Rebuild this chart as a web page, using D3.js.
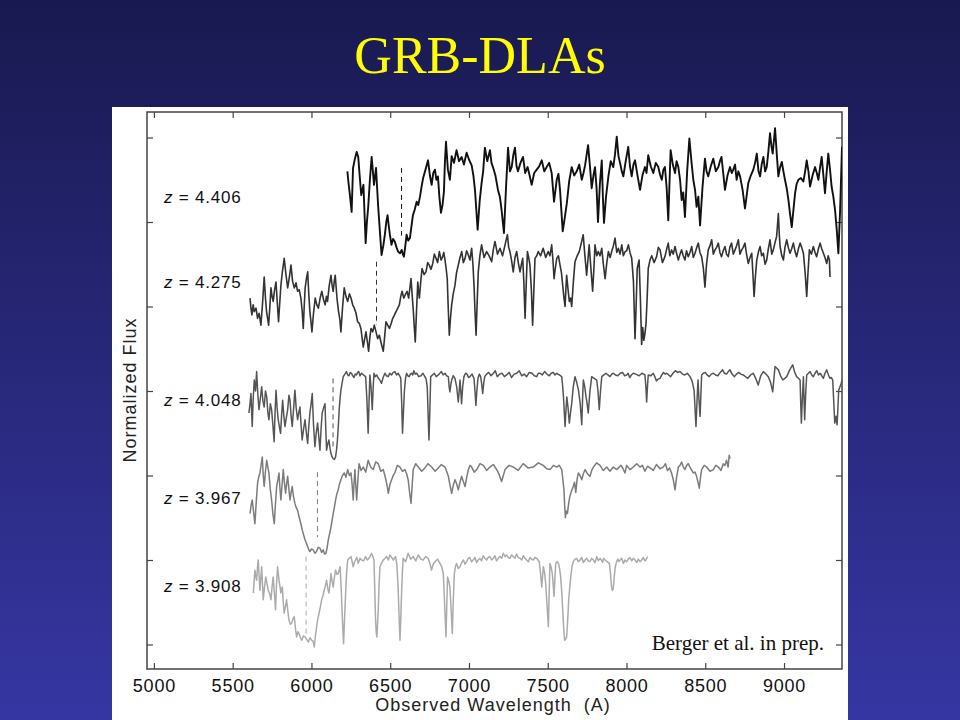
<!DOCTYPE html>
<html><head><meta charset="utf-8">
<script src="https://cdn.jsdelivr.net/npm/d3@7"></script>
<style>html,body{margin:0;padding:0;background:#222266;} svg{display:block;}</style>
</head><body>
<svg id="c" width="960" height="720"></svg>
<script>
// ---------- data ----------
const redshifts = ["4.406","4.275","4.048","3.967","3.908"];
const dlaWave = [6572, 6413, 6137, 6038, 5966];          // Ly-alpha of each DLA (A)
const dashTop = [5.64, 4.53, 3.15, 2.04, 1.04];
const dashBottom = [4.84, 3.78, 2.34, 1.27, 0.09];
const labelFlux = [5.22, 4.22, 2.82, 1.66, 0.62];
const xTicks = [5000,5500,6000,6500,7000,7500,8000,8500,9000];
const yTicks = [0,1,2,3,4,5,6];

const spec4406 = [[6228,5.60],[6236,5.45],[6244,5.32],[6255,5.12],[6264,5.64],[6276,5.75],[6287,5.83],[6297,5.77],[6306,5.55],[6316,5.32],[6330,5.44],[6338,5.05],[6344,4.75],[6352,5.00],[6360,5.17],[6371,5.50],[6382,5.77],[6390,5.60],[6397,5.44],[6410,5.64],[6417,5.40],[6423,5.20],[6434,4.90],[6445,4.61],[6456,4.72],[6466,4.85],[6475,5.00],[6483,5.08],[6491,4.95],[6498,4.85],[6508,4.73],[6518,4.80],[6529,4.77],[6540,4.70],[6550,4.65],[6562,4.63],[6573,4.67],[6580,4.62],[6587,4.59],[6596,4.72],[6604,4.85],[6614,4.78],[6625,4.81],[6635,4.95],[6644,5.08],[6656,5.15],[6668,5.24],[6678,5.20],[6689,5.30],[6699,5.42],[6709,5.52],[6724,5.62],[6740,5.73],[6752,5.55],[6763,5.44],[6773,5.58],[6784,5.62],[6793,5.50],[6803,5.54],[6812,5.30],[6822,5.11],[6832,5.20],[6841,5.36],[6847,5.70],[6854,5.95],[6866,5.62],[6879,5.50],[6890,5.78],[6905,5.70],[6921,5.85],[6937,5.72],[6953,5.77],[6968,5.68],[6985,5.82],[7000,5.74],[7017,5.67],[7028,5.55],[7038,5.38],[7055,4.91],[7068,5.25],[7080,5.46],[7090,5.60],[7101,5.88],[7116,5.72],[7133,5.85],[7143,5.70],[7152,5.65],[7168,5.55],[7184,5.38],[7196,5.30],[7207,5.14],[7222,4.87],[7235,5.40],[7248,5.88],[7260,5.60],[7271,5.65],[7282,5.80],[7292,5.88],[7302,5.66],[7311,5.60],[7327,5.70],[7343,5.77],[7357,5.58],[7372,5.65],[7385,5.55],[7398,5.44],[7414,5.58],[7430,5.62],[7446,5.66],[7462,5.73],[7478,5.60],[7493,5.65],[7509,5.70],[7525,5.58],[7540,5.24],[7557,5.50],[7568,5.57],[7578,5.38],[7595,4.89],[7608,5.05],[7621,5.22],[7636,5.48],[7652,5.65],[7668,5.55],[7684,5.60],[7700,5.68],[7716,5.50],[7727,5.58],[7737,5.67],[7756,5.91],[7768,5.66],[7779,5.40],[7790,5.55],[7800,5.65],[7810,5.40],[7819,5.00],[7831,5.45],[7843,5.73],[7850,5.30],[7857,4.99],[7870,5.30],[7885,5.54],[7900,5.72],[7916,5.65],[7927,5.80],[7938,6.01],[7949,5.78],[7959,5.70],[7970,5.60],[7980,5.54],[7995,5.72],[8011,5.89],[8022,5.66],[8033,5.54],[8044,5.68],[8054,5.73],[8070,5.55],[8086,5.38],[8101,5.55],[8117,5.65],[8127,5.58],[8138,5.79],[8154,5.66],[8170,5.58],[8186,5.70],[8202,5.65],[8213,5.56],[8224,5.50],[8234,5.62],[8244,5.65],[8255,5.40],[8265,5.02],[8280,5.85],[8294,5.68],[8308,5.58],[8318,5.72],[8329,5.65],[8340,5.50],[8350,5.26],[8360,5.35],[8371,5.06],[8385,5.60],[8399,5.99],[8412,5.72],[8424,5.50],[8435,5.38],[8445,5.18],[8456,5.30],[8467,4.96],[8482,5.40],[8498,5.75],[8508,5.60],[8519,5.54],[8535,5.66],[8551,5.75],[8567,5.60],[8583,5.65],[8593,5.72],[8603,5.77],[8614,5.58],[8625,5.38],[8641,5.55],[8657,5.65],[8668,5.58],[8678,5.62],[8689,5.68],[8699,5.50],[8710,5.60],[8721,5.54],[8737,5.38],[8752,5.16],[8762,5.30],[8773,5.46],[8789,5.55],[8805,5.62],[8816,5.70],[8827,5.81],[8838,5.60],[8848,5.54],[8858,5.68],[8869,5.77],[8880,5.60],[8890,5.65],[8900,5.82],[8911,6.05],[8920,5.90],[8928,5.81],[8935,5.95],[8943,6.11],[8954,5.80],[8964,5.54],[8975,5.65],[8986,5.71],[8996,5.60],[9006,5.50],[9017,5.40],[9028,5.26],[9038,5.10],[9049,4.94],[9060,5.15],[9070,5.34],[9080,5.45],[9091,5.50],[9107,5.52],[9123,5.48],[9134,5.60],[9144,5.73],[9155,5.60],[9165,5.42],[9181,5.55],[9197,5.65],[9208,5.58],[9218,5.50],[9229,5.65],[9239,5.77],[9250,5.55],[9260,5.34],[9271,5.60],[9281,5.81],[9292,5.62],[9302,5.42],[9313,5.30],[9324,5.14],[9335,4.90],[9345,4.63],[9356,5.14],[9368,5.89]];

const spec4275 = [[5610,4.10],[5616,3.98],[5622,3.90],[5630,4.02],[5637,3.94],[5648,3.98],[5658,3.86],[5668,3.92],[5679,3.78],[5690,4.05],[5700,4.35],[5708,4.10],[5715,3.94],[5728,3.78],[5736,4.00],[5743,4.22],[5750,4.12],[5757,4.06],[5766,4.20],[5775,4.29],[5783,4.05],[5791,3.82],[5799,4.05],[5806,4.25],[5816,4.42],[5827,4.57],[5838,4.38],[5849,4.22],[5860,4.35],[5870,4.49],[5880,4.30],[5891,4.22],[5902,4.28],[5912,4.18],[5922,4.20],[5933,4.10],[5941,3.95],[5948,3.74],[5954,4.00],[5960,4.22],[5968,4.33],[5976,4.41],[5983,4.15],[5990,3.94],[5997,3.82],[6003,3.70],[6013,3.92],[6024,4.10],[6034,4.02],[6044,3.98],[6055,4.10],[6066,4.18],[6077,4.08],[6087,4.02],[6095,4.12],[6102,4.06],[6113,4.25],[6124,4.37],[6131,4.25],[6138,4.18],[6145,4.30],[6151,4.37],[6162,4.10],[6172,3.94],[6180,3.85],[6187,3.70],[6197,3.98],[6208,4.22],[6219,4.12],[6230,4.06],[6241,4.15],[6251,4.10],[6262,4.02],[6272,3.98],[6283,3.92],[6293,3.82],[6304,3.80],[6314,3.74],[6322,3.62],[6329,3.52],[6338,3.62],[6346,3.70],[6355,3.58],[6363,3.47],[6370,3.62],[6378,3.74],[6389,3.70],[6399,3.78],[6410,3.70],[6420,3.62],[6431,3.66],[6441,3.58],[6449,3.52],[6456,3.47],[6465,3.65],[6473,3.82],[6484,3.78],[6495,3.74],[6506,3.80],[6516,3.86],[6527,3.90],[6537,3.94],[6548,3.98],[6558,4.02],[6567,4.12],[6575,4.18],[6586,4.10],[6596,4.14],[6607,4.18],[6617,4.10],[6625,4.22],[6632,4.33],[6640,4.12],[6647,3.94],[6653,3.75],[6659,3.58],[6667,3.95],[6675,4.29],[6680,4.18],[6685,4.10],[6694,4.30],[6702,4.45],[6715,4.38],[6727,4.41],[6738,4.52],[6748,4.49],[6759,4.44],[6770,4.51],[6780,4.62],[6791,4.57],[6801,4.52],[6812,4.65],[6823,4.55],[6833,4.59],[6840,4.64],[6848,4.55],[6855,4.45],[6862,4.33],[6868,4.00],[6875,3.66],[6882,3.85],[6890,4.02],[6900,4.15],[6911,4.25],[6921,4.40],[6932,4.49],[6943,4.58],[6954,4.65],[6964,4.52],[6975,4.57],[6985,4.66],[6996,4.61],[7006,4.55],[7017,4.69],[7025,4.50],[7032,4.25],[7038,3.95],[7045,3.66],[7052,4.05],[7059,4.41],[7069,4.60],[7080,4.73],[7096,4.58],[7112,4.65],[7128,4.60],[7144,4.53],[7155,4.68],[7165,4.77],[7181,4.62],[7197,4.69],[7213,4.60],[7229,4.73],[7244,4.85],[7252,4.70],[7260,4.65],[7270,4.55],[7281,4.41],[7292,4.58],[7303,4.65],[7313,4.52],[7324,4.41],[7333,4.50],[7341,4.57],[7348,4.30],[7356,3.86],[7364,4.30],[7371,4.65],[7379,4.58],[7387,4.49],[7396,4.20],[7404,3.78],[7412,4.20],[7419,4.57],[7430,4.60],[7440,4.65],[7455,4.60],[7471,4.69],[7487,4.58],[7503,4.65],[7514,4.60],[7525,4.73],[7533,4.55],[7540,4.33],[7548,4.45],[7557,4.57],[7568,4.60],[7578,4.49],[7587,4.40],[7595,4.25],[7603,4.10],[7610,4.00],[7615,4.20],[7620,4.37],[7629,4.20],[7637,4.06],[7645,4.10],[7652,4.00],[7663,4.30],[7673,4.53],[7687,4.60],[7700,4.65],[7713,4.75],[7725,4.85],[7736,4.60],[7747,4.37],[7755,4.55],[7763,4.73],[7774,4.45],[7785,4.18],[7793,4.45],[7800,4.73],[7811,4.60],[7821,4.65],[7832,4.60],[7843,4.69],[7853,4.50],[7864,4.33],[7875,4.52],[7885,4.65],[7896,4.58],[7906,4.65],[7917,4.72],[7927,4.81],[7938,4.64],[7948,4.69],[7959,4.62],[7970,4.73],[7980,4.60],[7991,4.65],[8001,4.66],[8012,4.73],[8022,4.64],[8033,4.57],[8044,4.30],[8054,3.62],[8061,4.00],[8068,4.45],[8080,4.55],[8088,4.10],[8096,3.55],[8103,3.75],[8110,3.60],[8117,3.68],[8124,3.80],[8131,4.10],[8138,4.45],[8149,4.55],[8160,4.60],[8175,4.52],[8191,4.59],[8202,4.70],[8213,4.67],[8228,4.52],[8244,4.59],[8255,4.68],[8265,4.75],[8275,4.60],[8286,4.67],[8297,4.62],[8308,4.71],[8319,4.62],[8329,4.55],[8340,4.62],[8350,4.67],[8360,4.60],[8371,4.55],[8381,4.66],[8392,4.59],[8403,4.64],[8414,4.71],[8424,4.58],[8435,4.63],[8446,4.70],[8456,4.75],[8466,4.64],[8477,4.59],[8488,4.45],[8498,4.23],[8508,4.50],[8519,4.67],[8530,4.72],[8541,4.79],[8551,4.62],[8562,4.67],[8572,4.70],[8583,4.75],[8593,4.64],[8603,4.59],[8614,4.66],[8625,4.71],[8635,4.62],[8646,4.59],[8656,4.70],[8667,4.75],[8678,4.62],[8689,4.67],[8699,4.72],[8710,4.79],[8720,4.62],[8731,4.67],[8741,4.70],[8752,4.75],[8762,4.62],[8773,4.51],[8784,4.58],[8795,4.63],[8802,4.40],[8810,4.12],[8818,4.35],[8827,4.55],[8838,4.65],[8848,4.71],[8858,4.60],[8869,4.63],[8880,4.50],[8890,4.55],[8900,4.68],[8911,4.79],[8922,4.62],[8932,4.67],[8942,4.75],[8953,4.83],[8958,4.95],[8964,5.10],[8970,4.85],[8975,4.71],[8986,4.60],[8996,4.55],[9006,4.70],[9017,4.79],[9027,4.70],[9038,4.63],[9048,4.68],[9059,4.75],[9070,4.65],[9080,4.59],[9091,4.68],[9102,4.75],[9112,4.70],[9123,4.63],[9134,4.40],[9144,4.12],[9152,4.40],[9161,4.67],[9174,4.62],[9186,4.71],[9197,4.64],[9207,4.59],[9218,4.68],[9229,4.75],[9240,4.68],[9250,4.63],[9260,4.58],[9271,4.51],[9280,4.60],[9288,4.55],[9292,4.35]];

const spec4048 = [[5603,2.74],[5610,2.85],[5616,2.97],[5624,2.58],[5630,2.90],[5637,3.13],[5645,3.00],[5652,3.23],[5660,2.95],[5667,2.78],[5676,2.92],[5684,3.05],[5692,2.88],[5700,2.81],[5708,3.00],[5716,2.93],[5723,2.75],[5730,2.66],[5739,2.85],[5747,2.78],[5755,2.60],[5763,2.40],[5769,2.75],[5775,3.01],[5782,2.80],[5789,2.66],[5796,2.58],[5804,2.50],[5810,2.70],[5817,2.89],[5825,2.70],[5832,2.58],[5840,2.68],[5849,2.78],[5857,2.95],[5864,2.89],[5871,2.70],[5878,2.58],[5887,2.80],[5895,3.01],[5903,2.80],[5912,2.66],[5920,2.75],[5927,2.81],[5934,2.60],[5941,2.42],[5950,2.55],[5959,2.66],[5968,2.50],[5976,2.38],[5983,2.58],[5990,2.74],[5998,2.85],[6005,2.97],[6013,2.60],[6022,2.34],[6030,2.50],[6039,2.62],[6047,2.45],[6054,2.30],[6061,2.55],[6068,2.74],[6077,2.80],[6086,2.85],[6091,2.55],[6096,2.30],[6104,2.38],[6111,2.42],[6118,2.32],[6124,2.26],[6131,2.22],[6138,2.20],[6146,2.19],[6153,2.22],[6159,2.30],[6165,2.42],[6171,2.60],[6176,2.78],[6182,2.92],[6187,3.01],[6195,3.10],[6202,3.17],[6212,3.20],[6222,3.23],[6230,3.19],[6238,3.18],[6246,3.22],[6254,3.21],[6262,3.18],[6270,3.16],[6278,3.20],[6286,3.19],[6293,3.22],[6300,3.23],[6308,3.18],[6317,3.21],[6330,3.19],[6344,3.17],[6352,2.90],[6360,2.50],[6366,2.90],[6371,3.19],[6378,3.05],[6386,2.78],[6392,3.05],[6397,3.21],[6405,3.17],[6414,3.19],[6422,3.16],[6430,3.14],[6437,3.12],[6445,3.09],[6455,3.16],[6466,3.21],[6476,3.18],[6487,3.17],[6497,3.21],[6508,3.19],[6519,3.22],[6530,3.23],[6540,3.19],[6550,3.21],[6560,3.18],[6567,3.15],[6573,2.85],[6578,2.50],[6584,2.75],[6590,3.00],[6597,3.15],[6604,3.21],[6612,3.18],[6620,3.17],[6628,3.20],[6635,3.21],[6643,3.19],[6650,3.24],[6659,3.20],[6668,3.21],[6681,3.17],[6695,3.18],[6708,3.21],[6720,3.17],[6728,3.14],[6735,3.05],[6741,2.70],[6746,2.42],[6752,2.80],[6757,3.17],[6768,3.19],[6780,3.21],[6792,3.17],[6805,3.19],[6815,3.21],[6825,3.23],[6836,3.19],[6848,3.21],[6858,3.18],[6869,3.17],[6874,3.05],[6879,2.99],[6885,3.08],[6890,3.13],[6900,3.18],[6911,3.15],[6922,3.05],[6932,2.87],[6938,3.00],[6943,3.13],[6948,3.00],[6953,2.85],[6960,3.05],[6968,3.17],[6978,3.21],[6988,3.20],[6997,3.16],[7006,3.17],[7019,3.20],[7032,3.15],[7038,3.00],[7044,2.83],[7050,3.00],[7057,3.15],[7066,3.20],[7074,3.17],[7081,3.08],[7087,2.97],[7094,3.10],[7100,3.17],[7112,3.20],[7125,3.22],[7140,3.18],[7155,3.21],[7167,3.24],[7180,3.17],[7195,3.20],[7210,3.21],[7225,3.17],[7239,3.19],[7255,3.22],[7270,3.16],[7287,3.20],[7303,3.21],[7319,3.24],[7335,3.18],[7350,3.20],[7366,3.17],[7383,3.22],[7400,3.21],[7415,3.18],[7430,3.17],[7440,3.21],[7451,3.21],[7465,3.19],[7480,3.23],[7495,3.20],[7510,3.18],[7522,3.21],[7535,3.22],[7546,3.19],[7557,3.21],[7573,3.19],[7589,3.17],[7595,3.05],[7600,2.93],[7605,2.75],[7610,2.58],[7615,2.75],[7621,2.93],[7629,2.80],[7637,2.62],[7645,2.75],[7652,2.85],[7662,3.05],[7673,3.17],[7684,3.10],[7695,3.01],[7706,2.85],[7716,2.60],[7721,2.90],[7726,3.13],[7735,3.05],[7743,2.93],[7750,2.85],[7757,2.74],[7768,3.00],[7779,3.17],[7795,3.15],[7811,3.13],[7819,3.00],[7827,2.78],[7835,3.00],[7843,3.17],[7856,3.19],[7870,3.21],[7882,3.19],[7895,3.17],[7906,3.20],[7916,3.21],[7930,3.19],[7945,3.18],[7960,3.21],[7975,3.22],[7988,3.18],[8001,3.19],[8010,3.21],[8020,3.16],[8031,3.19],[8043,3.21],[8060,3.20],[8080,3.18],[8098,3.21],[8117,3.19],[8123,3.05],[8128,2.87],[8133,3.05],[8138,3.19],[8155,3.18],[8170,3.21],[8180,3.17],[8190,3.12],[8200,3.14],[8213,3.15],[8224,3.19],[8235,3.22],[8245,3.20],[8255,3.21],[8268,3.19],[8280,3.17],[8295,3.21],[8310,3.24],[8325,3.22],[8340,3.23],[8355,3.20],[8370,3.19],[8386,3.21],[8403,3.17],[8416,3.12],[8429,3.01],[8435,2.80],[8441,2.58],[8448,2.90],[8454,3.13],[8460,2.90],[8467,2.70],[8472,2.95],[8477,3.19],[8488,3.21],[8500,3.22],[8512,3.19],[8525,3.17],[8538,3.20],[8551,3.21],[8565,3.19],[8580,3.18],[8595,3.22],[8610,3.25],[8622,3.21],[8635,3.20],[8646,3.23],[8657,3.25],[8670,3.20],[8685,3.17],[8698,3.20],[8712,3.22],[8726,3.20],[8741,3.19],[8755,3.17],[8770,3.15],[8788,3.19],[8805,3.21],[8820,3.15],[8836,3.07],[8852,3.18],[8869,3.23],[8885,3.20],[8900,3.17],[8915,3.10],[8928,2.99],[8936,3.15],[8943,3.29],[8954,3.27],[8964,3.25],[8978,3.18],[8992,3.13],[9005,3.15],[9017,3.17],[9036,3.25],[9055,3.31],[9068,3.22],[9080,3.17],[9091,3.15],[9102,3.13],[9106,2.85],[9110,2.62],[9116,2.90],[9123,3.17],[9127,2.90],[9131,2.66],[9137,2.95],[9144,3.19],[9155,3.21],[9165,3.23],[9176,3.19],[9186,3.17],[9197,3.21],[9208,3.24],[9219,3.19],[9229,3.21],[9240,3.18],[9250,3.15],[9260,3.21],[9271,3.25],[9282,3.19],[9292,3.15],[9300,3.16],[9309,3.13],[9315,2.90],[9322,2.62],[9330,2.70],[9337,2.60],[9342,2.80],[9347,3.01],[9355,3.05],[9363,3.09],[9368,3.13]];

const spec3967 = [[5610,1.55],[5617,1.65],[5624,1.71],[5632,1.58],[5641,1.43],[5650,1.70],[5658,1.91],[5665,1.98],[5673,2.03],[5680,2.12],[5688,2.22],[5694,2.00],[5700,1.87],[5708,2.05],[5716,2.18],[5723,2.10],[5730,2.03],[5738,1.85],[5747,1.71],[5755,1.55],[5764,1.43],[5771,1.65],[5779,1.87],[5787,1.95],[5794,2.03],[5800,1.85],[5806,1.71],[5814,1.90],[5821,2.07],[5828,1.92],[5836,1.79],[5842,1.90],[5849,1.99],[5856,1.85],[5864,1.71],[5871,1.80],[5878,1.87],[5886,1.75],[5895,1.67],[5903,1.62],[5912,1.59],[5920,1.52],[5927,1.47],[5934,1.42],[5941,1.36],[5950,1.30],[5959,1.24],[5967,1.20],[5976,1.16],[5983,1.12],[5990,1.10],[6000,1.13],[6011,1.12],[6022,1.08],[6032,1.10],[6043,1.15],[6054,1.14],[6065,1.09],[6075,1.12],[6083,1.07],[6092,1.08],[6100,1.15],[6107,1.24],[6115,1.31],[6124,1.39],[6131,1.47],[6138,1.55],[6146,1.63],[6153,1.71],[6161,1.78],[6170,1.83],[6178,1.90],[6187,1.95],[6197,2.00],[6208,2.03],[6219,1.98],[6230,2.07],[6241,2.00],[6251,2.03],[6258,1.90],[6265,1.71],[6270,1.90],[6276,2.07],[6281,1.90],[6287,1.71],[6295,1.95],[6302,2.14],[6315,2.06],[6329,2.10],[6345,2.04],[6360,2.18],[6376,2.10],[6392,2.07],[6408,2.16],[6424,2.14],[6440,2.05],[6456,2.07],[6466,2.00],[6477,1.91],[6483,1.85],[6488,1.79],[6499,1.90],[6509,1.95],[6519,2.00],[6529,2.03],[6545,2.12],[6562,2.10],[6578,2.05],[6593,2.07],[6604,2.02],[6614,1.95],[6623,1.80],[6632,1.67],[6640,1.90],[6646,2.07],[6662,2.14],[6678,2.10],[6700,2.05],[6720,2.09],[6740,2.14],[6763,2.10],[6785,2.05],[6805,2.09],[6825,2.13],[6848,2.10],[6858,2.05],[6869,1.99],[6880,1.88],[6890,1.79],[6900,1.88],[6911,1.95],[6922,1.90],[6932,1.83],[6943,1.92],[6953,1.99],[6964,1.93],[6975,1.87],[6986,1.98],[6996,2.07],[7007,2.12],[7017,2.10],[7033,2.04],[7049,2.07],[7070,2.14],[7091,2.12],[7112,2.06],[7133,2.10],[7155,2.13],[7176,2.07],[7192,2.01],[7207,1.93],[7218,2.00],[7229,2.07],[7255,2.12],[7281,2.10],[7312,2.06],[7344,2.14],[7375,2.09],[7408,2.10],[7440,2.15],[7471,2.12],[7493,2.08],[7515,2.07],[7536,2.12],[7557,2.10],[7573,2.12],[7589,2.07],[7596,1.95],[7603,1.83],[7608,1.62],[7612,1.50],[7618,1.58],[7625,1.55],[7632,1.66],[7640,1.75],[7651,1.82],[7662,1.87],[7670,1.92],[7678,1.80],[7686,1.95],[7694,2.03],[7705,2.00],[7716,1.95],[7726,2.02],[7737,2.07],[7752,2.02],[7768,1.99],[7779,2.06],[7790,2.10],[7810,2.15],[7832,2.12],[7852,2.06],[7874,2.10],[7895,2.05],[7916,2.10],[7938,2.07],[7965,2.12],[7978,2.08],[7990,2.03],[8001,2.12],[8022,2.07],[8043,2.10],[8065,2.14],[8086,2.10],[8101,2.12],[8117,2.05],[8133,2.11],[8149,2.09],[8170,2.06],[8190,2.13],[8212,2.08],[8233,2.10],[8247,2.14],[8260,2.06],[8273,2.09],[8286,2.03],[8297,1.95],[8308,1.83],[8318,1.98],[8329,2.10],[8340,2.12],[8350,2.16],[8361,2.10],[8371,2.07],[8382,2.12],[8392,2.14],[8408,2.08],[8424,2.03],[8435,2.04],[8445,1.99],[8454,1.92],[8462,1.85],[8470,1.98],[8477,2.07],[8493,2.12],[8509,2.10],[8530,2.05],[8551,2.07],[8567,2.12],[8583,2.10],[8600,2.06],[8614,2.14],[8625,2.12],[8635,2.18],[8645,2.10],[8652,2.24],[8657,2.20]];

const spec3908 = [[5631,0.61],[5636,0.75],[5641,0.88],[5647,0.80],[5652,0.76],[5657,0.90],[5662,1.00],[5668,0.80],[5673,0.64],[5679,0.80],[5684,0.92],[5689,0.72],[5694,0.53],[5702,0.68],[5710,0.80],[5718,0.72],[5726,0.64],[5735,0.60],[5743,0.53],[5750,0.68],[5757,0.80],[5765,0.60],[5772,0.41],[5778,0.70],[5785,0.92],[5795,0.75],[5806,0.61],[5810,0.65],[5815,0.68],[5821,0.50],[5827,0.37],[5835,0.45],[5842,0.53],[5850,0.40],[5857,0.29],[5866,0.24],[5874,0.25],[5882,0.30],[5891,0.33],[5899,0.18],[5906,0.09],[5914,0.15],[5921,0.13],[5930,0.08],[5938,0.05],[5948,0.10],[5959,0.09],[5970,0.06],[5980,0.03],[5991,0.08],[6002,0.05],[6010,0.04],[6018,-0.03],[6025,0.10],[6033,0.21],[6040,0.30],[6048,0.37],[6057,0.45],[6065,0.53],[6073,0.58],[6081,0.64],[6089,0.70],[6096,0.76],[6104,0.66],[6111,0.61],[6118,0.72],[6124,0.84],[6131,0.75],[6138,0.68],[6146,0.80],[6153,0.88],[6162,0.83],[6170,0.84],[6176,0.88],[6182,0.92],[6189,0.65],[6195,0.37],[6200,0.15],[6204,0.01],[6210,0.30],[6217,0.61],[6223,0.85],[6230,1.00],[6240,1.02],[6251,1.04],[6258,0.98],[6265,0.92],[6272,0.97],[6280,1.00],[6288,1.03],[6297,0.96],[6308,1.02],[6318,1.00],[6331,0.99],[6344,1.04],[6355,1.00],[6365,1.02],[6374,1.05],[6382,1.08],[6390,1.04],[6397,1.00],[6402,0.65],[6407,0.29],[6411,0.15],[6415,0.09],[6419,0.22],[6424,0.41],[6429,0.70],[6435,0.92],[6446,0.97],[6456,1.00],[6467,1.02],[6477,1.04],[6488,1.00],[6498,1.06],[6509,1.03],[6519,1.00],[6527,1.02],[6534,1.04],[6542,0.95],[6550,0.68],[6556,0.35],[6562,0.05],[6567,0.30],[6572,0.61],[6577,0.85],[6582,1.02],[6598,0.98],[6614,1.08],[6630,1.01],[6646,1.04],[6662,0.99],[6678,1.06],[6695,1.01],[6709,1.00],[6725,1.04],[6741,1.02],[6752,0.96],[6762,0.88],[6773,0.95],[6784,0.98],[6800,1.01],[6816,0.96],[6827,0.92],[6837,0.84],[6846,0.45],[6854,0.09],[6859,0.45],[6864,0.80],[6872,0.75],[6879,0.68],[6887,0.40],[6894,0.13],[6900,0.50],[6907,0.84],[6914,0.92],[6921,0.96],[6932,0.90],[6943,0.92],[6954,0.97],[6965,1.00],[6975,0.95],[6985,0.98],[6995,1.02],[7005,1.03],[7016,0.98],[7027,1.00],[7038,1.03],[7048,0.97],[7059,1.00],[7069,1.02],[7080,0.99],[7090,1.05],[7101,1.02],[7112,1.00],[7122,1.03],[7133,1.04],[7144,1.00],[7154,1.02],[7165,1.05],[7175,0.99],[7186,1.02],[7197,1.04],[7208,1.02],[7218,1.08],[7229,1.04],[7239,1.06],[7250,1.03],[7260,1.02],[7271,1.06],[7281,1.04],[7292,1.02],[7302,1.07],[7313,1.03],[7324,1.02],[7335,1.00],[7345,1.05],[7356,1.02],[7366,1.00],[7377,0.98],[7387,1.03],[7398,1.01],[7408,1.00],[7419,1.03],[7430,1.02],[7438,1.00],[7446,0.98],[7454,0.85],[7462,0.68],[7467,0.80],[7472,0.92],[7480,0.85],[7487,0.72],[7496,0.45],[7504,0.21],[7509,0.60],[7514,0.96],[7521,0.92],[7529,0.84],[7535,0.70],[7540,0.57],[7546,0.80],[7551,0.96],[7560,0.98],[7568,0.96],[7575,0.90],[7582,0.80],[7589,0.62],[7595,0.41],[7601,0.20],[7607,0.05],[7613,0.06],[7620,0.09],[7627,0.30],[7633,0.53],[7640,0.68],[7646,0.80],[7654,0.92],[7662,0.98],[7673,1.01],[7684,1.02],[7695,0.98],[7705,1.00],[7716,1.03],[7726,0.97],[7737,1.00],[7747,1.02],[7758,0.99],[7768,0.98],[7779,1.02],[7790,1.00],[7800,0.97],[7811,1.04],[7821,0.99],[7832,1.02],[7840,1.00],[7848,0.97],[7855,1.02],[7863,1.00],[7877,0.98],[7891,0.96],[7898,0.85],[7905,0.68],[7910,0.64],[7916,0.66],[7922,0.80],[7929,0.92],[7937,0.98],[7945,1.01],[7952,0.98],[7959,1.00],[7970,1.02],[7980,0.96],[7990,1.00],[8001,0.98],[8011,1.01],[8022,1.03],[8033,0.99],[8043,1.02],[8054,1.00],[8065,0.97],[8075,1.01],[8086,0.98],[8096,1.00],[8107,1.03],[8114,1.00],[8120,0.99],[8128,1.02],[8135,1.04]];

const spectra = [spec4406, spec4275, spec4048, spec3967, spec3908];

// ---------- drawing ----------
const lineColors = ["#111111","#333333","#555555","#7c7c7c","#ababab"];
const lineWidths = [1.9, 1.6, 1.5, 1.5, 1.5];
const sans = "'Liberation Sans', Arial, Helvetica, sans-serif";
const serif = "'Liberation Serif', 'Times New Roman', serif";

const svg = d3.select("#c");
const defs = svg.append("defs");
const grad = defs.append("linearGradient").attr("id","bg").attr("x1",0).attr("y1",0).attr("x2",0).attr("y2",1);
grad.append("stop").attr("offset","0%").attr("stop-color","#191950");
grad.append("stop").attr("offset","100%").attr("stop-color","#3636a3");
svg.append("rect").attr("width",960).attr("height",720).attr("fill","url(#bg)");

svg.append("text").attr("x",480).attr("y",73).attr("text-anchor","middle")
  .attr("font-family",serif).attr("font-size",52).attr("fill","#ffff00").text("GRB-DLAs");

svg.append("rect").attr("x",112).attr("y",107).attr("width",736).attr("height",613).attr("fill","#ffffff");

const x = d3.scaleLinear().domain([4956, 9368]).range([147, 842]);
const y = d3.scaleLinear().domain([-0.29, 6.302]).range([669, 112]);

defs.append("clipPath").attr("id","plotclip").append("rect")
  .attr("x",147).attr("y",112).attr("width",695).attr("height",557);

const axisColor = "#444";
const gB = svg.append("g").attr("transform","translate(0,669)")
  .call(d3.axisBottom(x).tickValues(xTicks).tickSize(-6).tickSizeOuter(0).tickPadding(10).tickFormat(d3.format("d")));
const gT = svg.append("g").attr("transform","translate(0,112)")
  .call(d3.axisTop(x).tickValues(xTicks).tickSize(-6).tickSizeOuter(0).tickFormat(""));
const gL = svg.append("g").attr("transform","translate(147,0)")
  .call(d3.axisLeft(y).tickValues(yTicks).tickSize(-6).tickSizeOuter(0).tickFormat(""));
const gR = svg.append("g").attr("transform","translate(842,0)")
  .call(d3.axisRight(y).tickValues(yTicks).tickSize(-6).tickSizeOuter(0).tickFormat(""));
[gB,gT,gL,gR].forEach(g => {
  g.select(".domain").remove();
  g.selectAll(".tick line").attr("stroke",axisColor).attr("stroke-width",1.2);
});
gB.selectAll("text").attr("font-family",sans).attr("font-size",18)
  .attr("letter-spacing",0.8).attr("fill","#111");

svg.append("rect").attr("x",147).attr("y",112).attr("width",695).attr("height",557)
  .attr("fill","none").attr("stroke",axisColor).attr("stroke-width",1.5);

const line = d3.line().x(d => x(d[0])).y(d => y(d[1]));
const plot = svg.append("g").attr("clip-path","url(#plotclip)");

for (let i = spectra.length - 1; i >= 0; i--) {
  plot.append("line")
    .attr("x1", x(dlaWave[i])).attr("x2", x(dlaWave[i]))
    .attr("y1", y(dashTop[i])).attr("y2", y(dashBottom[i]))
    .attr("stroke", lineColors[i]).attr("stroke-width",1)
    .attr("stroke-dasharray","5,4");
  plot.append("path").datum(spectra[i])
    .attr("d", line).attr("fill","none")
    .attr("stroke", lineColors[i]).attr("stroke-width", lineWidths[i])
    .attr("stroke-linejoin","round");
}

redshifts.forEach((z, i) => {
  const t = svg.append("text").attr("x",164).attr("y", y(labelFlux[i]))
    .attr("font-family",sans).attr("font-size",17).attr("letter-spacing",0.8).attr("fill","#111");
  t.append("tspan").attr("font-style","italic").text("z");
  t.append("tspan").text(" = " + z);
});

svg.append("text").attr("transform","translate(135.5,390) rotate(-90)")
  .attr("text-anchor","middle").attr("font-family",sans).attr("font-size",18)
  .attr("letter-spacing",1).attr("fill","#222").text("Normalized Flux");

svg.append("text").attr("x",493).attr("y",711).attr("text-anchor","middle")
  .attr("font-family",sans).attr("font-size",18).attr("letter-spacing",1)
  .attr("fill","#222").style("white-space","pre").text("Observed Wavelength  (A)");

svg.append("text").attr("x",824).attr("y",650).attr("text-anchor","end")
  .attr("font-family",serif).attr("font-size",21).attr("fill","#111").text("Berger et al. in prep.");
</script>
</body></html>
